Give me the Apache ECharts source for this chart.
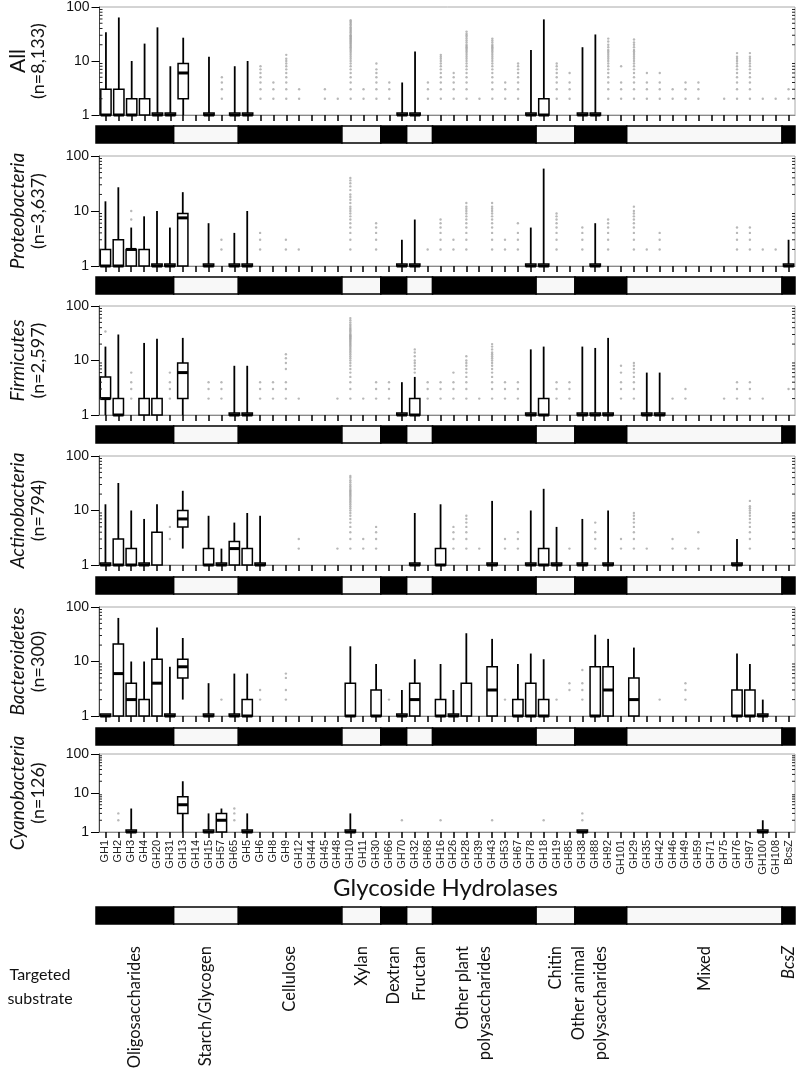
<!DOCTYPE html>
<html><head><meta charset="utf-8">
<script src="https://cdn.jsdelivr.net/npm/echarts@6/dist/echarts.min.js"></script>
<style>html,body{margin:0;padding:0;background:#fff}#c{width:800px;height:1070px}</style>
</head><body><div id="c"></div>
<script>
const N = null;
const categories = ['GH1','GH2','GH3','GH4','GH20','GH31','GH13','GH14','GH15','GH57','GH65','GH5','GH6','GH8','GH9','GH12','GH44','GH45','GH48','GH10','GH11','GH30','GH66','GH70','GH32','GH68','GH16','GH26','GH28','GH39','GH43','GH53','GH67','GH78','GH18','GH19','GH85','GH38','GH88','GH92','GH101','GH29','GH35','GH42','GH46','GH49','GH59','GH71','GH75','GH76','GH97','GH100','GH108','BcsZ'];
const groupNames = ['Oligosaccharides','Starch/Glycogen','Cellulose','Xylan','Dextran','Fructan','Other plant\npolysaccharides','Chitin','Other animal\npolysaccharides','Mixed','BcsZ'];
const groupSizes = [6,5,8,3,2,2,8,3,4,12,1];
const panelNames = ['All','Proteobacteria','Firmicutes','Actinobacteria','Bacteroidetes','Cyanobacteria'];
const panelCounts = ['(n=8,133)','(n=3,637)','(n=2,597)','(n=794)','(n=300)','(n=126)'];
const minorTickValues = [2,3,4,5,6,7,8,9,20,30,40,50,60,70,80,90];

// box: [min, q1, median, q3, max]
const boxAll = [
 [1,1,1,3,34],[1,1,1,3,64],[1,1,1,2,10],[1,1,N,2,21],[1,1,1,1,42],[1,1,1,1,8],
 [1,2,6,9,27],N,[1,1,1,1,12],N,[1,1,1,1,8],
 [1,1,1,1,10],N,N,N,N,N,N,N,
 N,N,N,
 N,[1,1,1,1,4],
 [1,1,1,1,15],N,
 N,N,N,N,N,N,N,[1,1,1,1,16],
 [1,1,1,2,59],N,N,
 [1,1,1,1,18],[1,1,1,1,31],N,N,
 N,N,N,N,N,N,N,N,N,N,N,N,
 N
];
const boxPro = [
 [1,1,1,2,15],[1,1,1,3,27],[1,1,2,2,5],[1,1,N,2,8],[1,1,1,1,10],[1,1,1,1,5],
 [1,1,7.5,9,22],N,[1,1,1,1,6],N,[1,1,1,1,4],
 [1,1,1,1,10],N,N,N,N,N,N,N,
 N,N,N,
 N,[1,1,1,1,3],
 [1,1,1,1,7],N,
 N,N,N,N,N,N,N,[1,1,1,1,5],
 [1,1,1,1,59],N,N,
 N,[1,1,1,1,6],N,N,
 N,N,N,N,N,N,N,N,N,N,N,N,
 [1,1,1,1,3]
];
const boxFir = [
 [1,2,2,5,18],[1,1,1,2,30],N,[1,1,N,2,21],[1,1,N,2,25],N,
 [1,2,6,9,26],N,N,N,[1,1,1,1,8],
 [1,1,1,1,8],N,N,N,N,N,N,N,
 N,N,N,
 N,[1,1,1,1,4],
 [1,1,1,2,5],N,
 N,N,N,N,N,N,N,[1,1,1,1,16],
 [1,1,1,2,18],N,N,
 [1,1,1,1,18],[1,1,1,1,17],[1,1,1,1,26],N,
 N,[1,1,1,1,6],[1,1,1,1,6],N,N,N,N,N,N,N,N,N,
 N
];
const boxAct = [
 [1,1,1,1,13],[1,1,1,3,32],[1,1,1,2,10],[1,1,1,1,7],[1,1,N,4,13],N,
 [2,5,7,10,23],N,[1,1,1,2,8],[1,1,1,1,2],[1,1,2,2.7,6],
 [1,1,N,2,9],[1,1,1,1,8],N,N,N,N,N,N,
 N,N,N,
 N,N,
 [1,1,1,1,9],N,
 [1,1,1,2,13],N,N,N,[1,1,1,1,15],N,N,[1,1,1,1,10],
 [1,1,1,2,25],[1,1,1,1,5],N,
 [1,1,1,1,7],N,[1,1,1,1,10],N,
 N,N,N,N,N,N,N,N,[1,1,1,1,3],N,N,N,
 N
];
const boxBac = [
 [1,1,1,1,1],[1,1,6,21,63],[1,1,2,4,10],[1,1,N,2,10],[1,1,4,11,42],[1,1,1,1,8],
 [2,5,8,11,27],N,[1,1,1,1,4],N,[1,1,1,1,6],
 [1,1,1,2,6],N,N,N,N,N,N,N,
 [1,1,1,4,19],N,[1,1,1,3,9],
 N,[1,1,1,1,3],
 [1,1,2,4,11],N,
 [1,1,1,2,9],[1,1,1,1,3],[1,1,N,4,33],N,[1,1,3,8,26],N,[1,1,1,2,9],[1,1,1,4,14],
 [1,1,1,2,11],N,N,
 N,[1,1,1,8,31],[1,1,3,8,26],N,
 [1,1,2,5,18],N,N,N,N,N,N,N,[1,1,1,3,14],[1,1,1,3,9],[1,1,1,1,2],N,
 N
];
const boxCya = [
 N,N,[1,1,1,1,4],N,N,N,
 [1,3,5,8,20],N,[1,1,1,1,3],[1,1,2,3,4],N,
 [1,1,1,1,3],N,N,N,N,N,N,N,
 [1,1,1,1,3],N,N,
 N,N,
 N,N,
 N,N,N,N,N,N,N,N,
 N,N,N,
 [1,1,1,1,1],N,N,N,
 N,N,N,N,N,N,N,N,N,N,[1,1,1,1,2],N,
 N
];

// outliers (gene counts) per category
const outAll = [
 [],[],[],[],[],[],
 [],[],[],[2,3,4,5],[],
 [],[2,3,4,5,6,7,8],[2,3,4],[2,3,4,5,6,7,8,9,10,11,13],[2,3],[],[2,3],[2],
 [2,3,4,5,6,7,8,9,10,11,12,13,14,15,16,17,18,19,20,21,22,23,24,25,26,27,28,29,30,32,34,36,38,40,42,45,48,51,54,57],[2,3],[2,3,4,5,6,7,9],
 [2,3,4],[],
 [],[2,3,4],
 [2,3,4,5,6,7,8,9,10,11,12,13],[2,3,4,5,6],[2,3,4,5,6,7,8,9,10,11,12,13,14,15,16,17,18,19,20,22,24,26,28,30,32,35],[2],[2,3,4,5,6,7,8,9,10,11,12,13,14,15,16,17,18,19,20,22,24,26],[2,3,4],[2,3,4,5,6,7,8,9],[],
 [],[2,3,4,5,6,7,8,9],[2,3,4,6],
 [],[],[2,3,4,5,6,7,8,9,10,11,12,13,14,15,16,18,20,23,26],[2,3,4,8],
 [2,3,4,5,6,7,8,9,10,11,12,13,14,15,16,18,20,22,25],[2,3,4,6],[2,3,4,6],[2,3],[2,3,4],[2,3,4],[],[2],[2,3,4,5,6,7,8,9,10,11,12,14],[2,3,4,5,6,7,8,9,10,11,12,14],[2],[2],
 [2,3]
];
const outPro = [
 [],[],[7,10],[],[],[],
 [],[],[],[2,3],[],
 [],[2,3,4],[],[2,3],[2],[],[],[],
 [2,3,4,5,6,7,8,9,10,11,12,14,16,18,20,24,28,32,36,40],[],[2,3,4,5,6],
 [],[],
 [],[2],
 [2,3,4,5,6,7],[2,3],[2,3,4,5,6,7,8,9,10,11,12,14],[],[2,3,4,5,6,7,8,9,10,11,12,14],[2,3],[2,3,4,6],[],
 [],[2,3,4,5,6,7,8,9],[],
 [2,3,4,5],[],[2,3,4,5,6,7],[],
 [2,3,4,5,6,7,8,9,10,12],[2],[2,3,4],[],[],[],[],[],[2,3,4,5],[2,3,4,5],[2],[2],
 []
];
const outFir = [
 [34],[],[2,3,4,6],[],[],[2,3,4,6],
 [],[],[2,3,4],[2,3,4],[],
 [],[2,3,4],[2,3,4],[2,3,4,7,9,11,13],[2],[],[],[2],
 [2,3,4,5,6,7,8,9,10,11,12,13,14,15,16,17,18,19,20,21,22,23,24,25,26,27,28,29,30,32,34,36,38,40,43,46,50,55,60],[2],[2,3,4],
 [2,3,4],[],
 [6,7,8,9,10,12,14,16],[2,3,4],
 [2,3,4],[2,3,4,6],[2,3,4,5,6,7,8,9,10,12],[2],[2,3,4,5,6,7,8,9,10,11,12,13,14,16,18,20],[2,3,4],[2,3,4],[],
 [],[2,3,4],[2,3,4],
 [],[],[],[2,3,4,6,8],
 [2,3,4,5,6,7,8,9],[],[],[2],[2,3],[],[],[2],[2,3,4],[2,3,4],[2],[],
 [3]
];
const outAct = [
 [],[],[],[],[],[3,5],
 [],[],[],[],[],
 [],[],[],[],[2,3],[],[],[2],
 [2,3,4,5,6,7,8,9,10,11,12,13,14,15,16,17,18,19,20,21,22,23,24,26,28,30,33,36,40,43],[2,3],[2,3,4,5],
 [],[],
 [],[],
 [],[2,3,4,5],[2,3,4,5,6,7,8],[2],[],[2,3],[2,3,4],[],
 [],[],[2],
 [],[2,3,4,6],[],[2,3],
 [2,3,4,5,6,7,8,9],[2],[],[2,3],[2],[2,4],[],[],[],[2,3,4,5,6,7,8,9,10,11,12,15],[],[],
 []
];
const outBac = [
 [],[],[],[],[],[],
 [],[],[],[2],[],
 [],[2,3],[],[2,3,5,6],[],[],[],[],
 [],[],[],
 [2],[],
 [],[],
 [],[],[],[],[],[2],[],[],
 [],[2],[3,4],
 [2,3,4,7],[],[],[],
 [],[],[2],[],[2,3,4],[],[],[],[],[],[],[],
 []
];
const outCya = [
 [],[2,3],[],[],[],[],
 [],[],[],[],[2,3,4],
 [],[],[],[],[],[],[],[],
 [],[],[],
 [],[2],
 [],[],
 [2],[],[],[],[2],[],[],[],
 [2],[],[],
 [2,3],[],[],[],
 [],[],[],[],[],[],[],[],[],[],[],[],
 []
];

const panelBoxes = [boxAll, boxPro, boxFir, boxAct, boxBac, boxCya];
const panelOut = [outAll, outPro, outFir, outAct, outBac, outCya];

// ---------- layout ----------
const L = 96, W = 699;
const panelTop = [5, 156, 306, 456, 607, 754];
const panelH = [110, 110, 109, 109, 109, 78];
const stripTop = [126, 277, 426, 577, 728, 907];
const stripH = 17;
const FONT = 'Lato, "Open Sans", sans-serif';
const TICKFONT = '"Liberation Sans", Arial, sans-serif';
const GROUP_LINE_H = 22;

// group spans from sizes
const groups = [];
{ let s = 0; groupSizes.forEach((n, g) => { groups.push([s, s + n - 1, g % 2, g]); s += n; }); }

const grid = [], xAxis = [], yAxis = [], series = [];

function renderBox(params, api) {
  const i = api.value(0);
  const mn = api.value(1), q1 = api.value(2), md = api.value(3), q3 = api.value(4), mx = api.value(5);
  const bw = api.size([1, 0])[0] * 0.8;
  const x = api.coord([i, 1])[0];
  const Y = v => api.coord([i, v])[1];
  const ch = [];
  const ls = { stroke: '#000', lineWidth: 1.8 };
  if (mx > q3) ch.push({ type: 'line', shape: { x1: x, y1: Y(q3), x2: x, y2: Y(mx) }, style: ls });
  if (q1 > mn) ch.push({ type: 'line', shape: { x1: x, y1: Y(q1), x2: x, y2: Y(mn) }, style: ls });
  const yt = Y(q3), yb = Y(q1);
  const flat = (yb - yt) < 1;
  ch.push({ type: 'rect', shape: { x: x - bw / 2, y: flat ? yt - 2 : yt, width: bw, height: flat ? 2 : yb - yt },
    style: { fill: '#fff', stroke: '#000', lineWidth: 1.5 } });
  if (md != null && !isNaN(md)) {
    const ym = Y(md);
    ch.push({ type: 'line', shape: { x1: x - bw / 2, y1: ym, x2: x + bw / 2, y2: ym }, style: { stroke: '#000', lineWidth: 3 } });
  }
  return { type: 'group', children: ch };
}

function renderMinor(params, api) {
  const v = api.value(1);
  const bw = api.size([1, 0])[0];
  const p0 = api.coord([0, v]), p1 = api.coord([categories.length - 1, v]);
  const xl = p0[0] - bw / 2, xr = p1[0] + bw / 2;
  return { type: 'group', children: [
    { type: 'line', shape: { x1: xl, y1: p0[1], x2: xl + 3, y2: p0[1] }, style: { stroke: '#222', lineWidth: 1 } },
    { type: 'line', shape: { x1: xr - 3, y1: p0[1], x2: xr, y2: p0[1] }, style: { stroke: '#222', lineWidth: 1 } }
  ] };
}

function makeStripRender(withText) {
  return function (params, api) {
    const s = api.value(0), e = api.value(1), c = api.value(2), g = api.value(3);
    const bw = api.size([1, 0])[0];
    const a = api.coord([s, 1]), b = api.coord([e, 0]);
    const x0 = a[0] - bw / 2, x1 = b[0] + bw / 2;
    const ch = [{ type: 'rect', shape: { x: x0, y: a[1], width: x1 - x0, height: b[1] - a[1] },
      style: { fill: c ? '#f8f8f8' : '#000', stroke: '#000', lineWidth: 1.5 } }];
    if (withText) {
      const name = groupNames[g];
      const nLines = name.split('\n').length;
      ch.push({ type: 'text', x: (x0 + x1) / 2 - (nLines - 1) * GROUP_LINE_H / 2, y: b[1] + 22, rotation: Math.PI / 2,
        style: { text: name, align: 'right', verticalAlign: 'middle', fontFamily: FONT, fontSize: 16.5,
          lineHeight: GROUP_LINE_H, fill: '#111', fontStyle: name === 'BcsZ' ? 'italic' : 'normal' } });
    }
    return { type: 'group', children: ch };
  };
}

for (let k = 0; k < 6; k++) {
  grid.push({ left: L, top: panelTop[k], width: W, height: panelH[k], show: true, borderColor: '#a8a8a8', borderWidth: 1 });
  xAxis.push({ type: 'category', gridIndex: k, data: categories, boundaryGap: true,
    axisLine: { show: true, lineStyle: { color: '#8a8a8a', width: 1 } },
    axisTick: { show: true, alignWithLabel: true, interval: 0, length: 6, lineStyle: { color: '#000', width: 1.5 } },
    axisLabel: { show: k === 5, interval: 0, rotate: 90, fontSize: 11, fontFamily: TICKFONT, color: '#222', margin: 8 },
    splitLine: { show: false } });
  const nm = (k === 0 ? '{a|' : '{i|') + panelNames[k] + '}\n{b|' + panelCounts[k] + '}';
  yAxis.push({ type: 'log', logBase: 10, min: 1, max: 100, gridIndex: k,
    axisLine: { show: true, lineStyle: { color: '#444', width: 1 } },
    axisTick: { show: true, length: 8, lineStyle: { color: '#000', width: 1 } },
    axisLabel: { fontSize: 14, fontFamily: TICKFONT, color: '#111', margin: 10 },
    splitLine: { show: false },
    name: nm, nameLocation: 'middle', nameRotate: 90, nameGap: 51,
    nameTextStyle: { lineHeight: 20, rich: {
      a: { fontFamily: FONT, fontSize: 21, color: '#111', lineHeight: 20 },
      i: { fontFamily: FONT, fontSize: 19, fontStyle: 'italic', color: '#111', lineHeight: 20 },
      b: { fontFamily: FONT, fontSize: 18, color: '#111', lineHeight: 20 } } } });

  const boxData = panelBoxes[k].map((b, i) => b ? [i, b[0], b[1], b[2] == null ? '-' : b[2], b[3], b[4]] : null).filter(Boolean);
  const outData = [];
  panelOut[k].forEach((vals, i) => vals.forEach(v => outData.push([i, v])));

  series.push({ type: 'scatter', xAxisIndex: k, yAxisIndex: k, data: outData, symbol: 'circle', symbolSize: 2.4,
    itemStyle: { color: '#a6a6a6' }, silent: true, z: 2 });
  series.push({ type: 'custom', xAxisIndex: k, yAxisIndex: k, data: boxData, renderItem: renderBox,
    encode: { x: 0, y: [1, 2, 4, 5] }, silent: true, z: 3 });
  series.push({ type: 'custom', xAxisIndex: k, yAxisIndex: k, data: minorTickValues.map(v => [0, v]), renderItem: renderMinor,
    encode: { x: 0, y: 1 }, silent: true, z: 4 });
}

for (let s = 0; s < 6; s++) {
  const gi = 6 + s;
  grid.push({ left: L, top: stripTop[s], width: W, height: stripH });
  xAxis.push({ type: 'category', gridIndex: gi, data: categories, show: false });
  yAxis.push({ type: 'value', gridIndex: gi, min: 0, max: 1, show: false });
  series.push({ type: 'custom', xAxisIndex: gi, yAxisIndex: gi, data: groups, renderItem: makeStripRender(s === 5),
    encode: { x: [0, 1], y: 2 }, silent: true, clip: false });
}

const chart = echarts.init(document.getElementById('c'), null, { renderer: 'canvas' });
chart.setOption({
  animation: false,
  backgroundColor: '#fff',
  grid, xAxis, yAxis, series,
  graphic: [
    { type: 'text', x: L + W / 2, y: 888, style: { text: 'Glycoside Hydrolases', align: 'center', verticalAlign: 'middle',
      fontFamily: FONT, fontSize: 24, fill: '#111' } },
    { type: 'text', x: 40, y: 987, style: { text: 'Targeted\nsubstrate', align: 'center', verticalAlign: 'middle',
      fontFamily: FONT, fontSize: 16, lineHeight: 24, fill: '#111' } }
  ]
});
</script></body></html>
